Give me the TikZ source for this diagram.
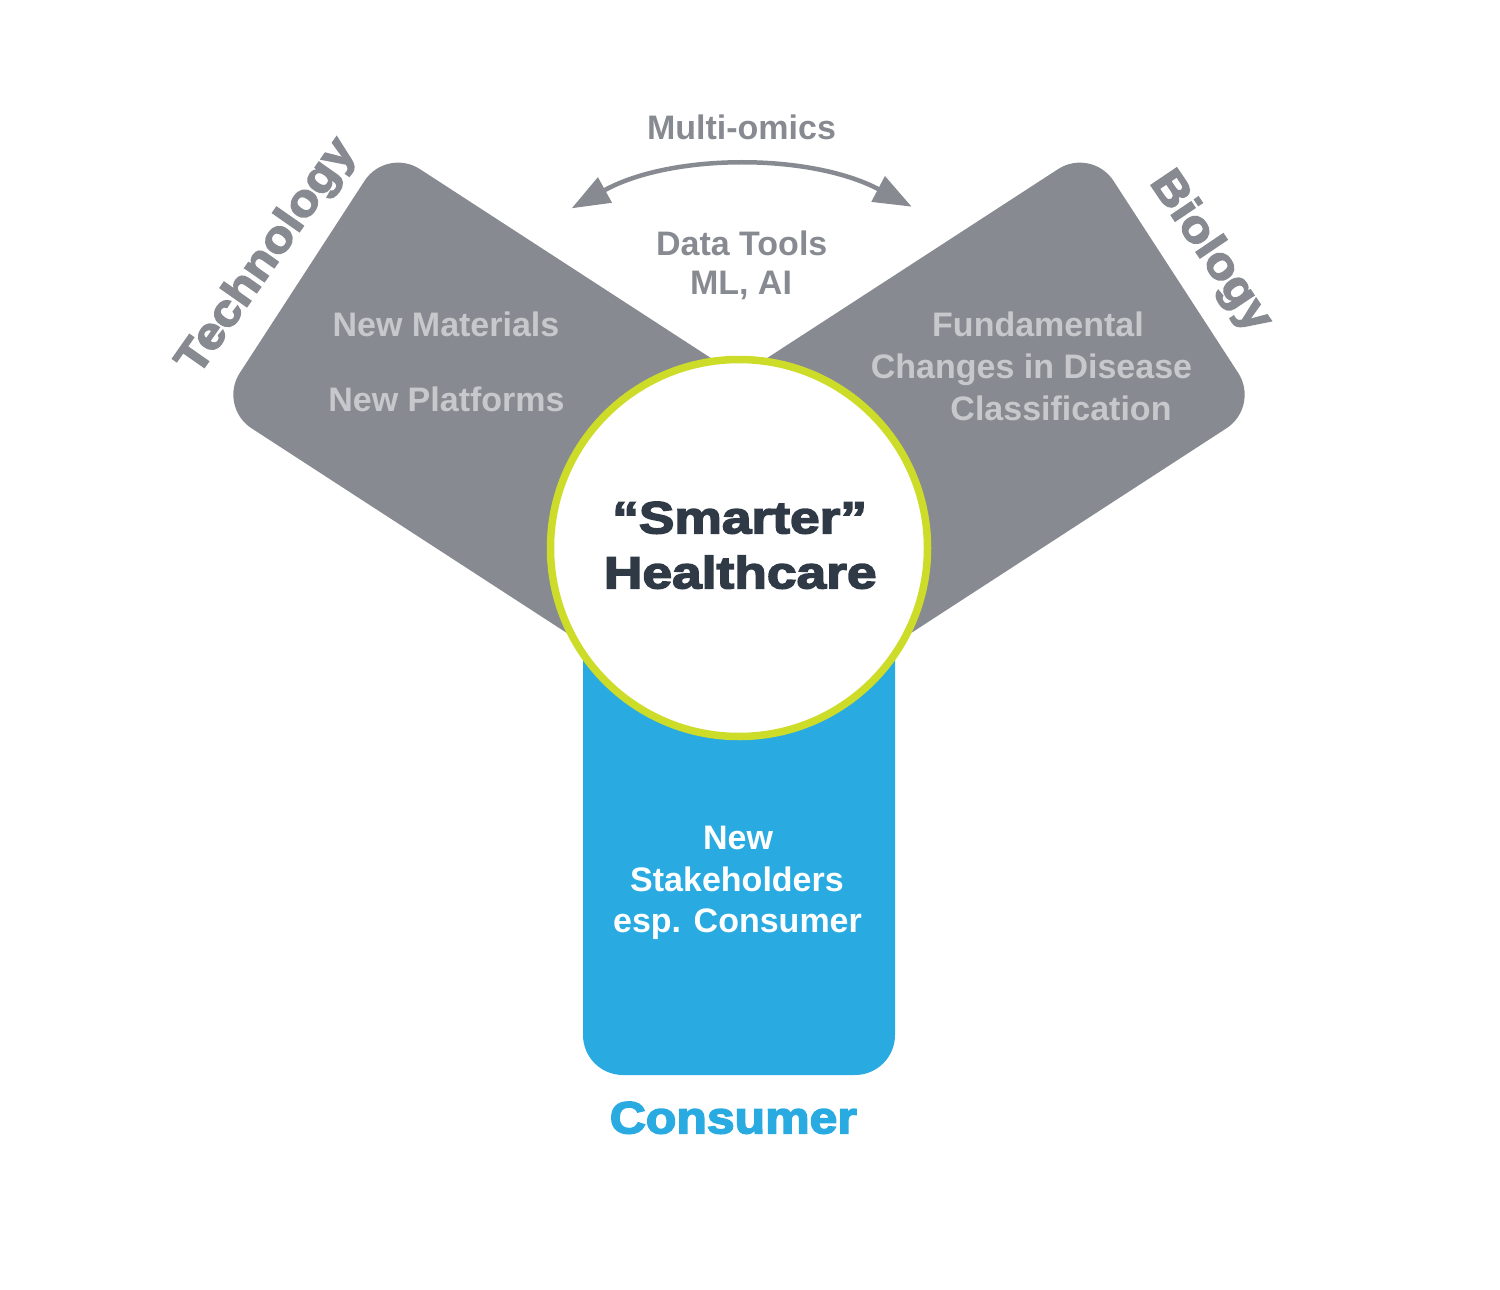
\documentclass[tikz,border=0pt]{standalone}
\usepackage{fontspec}
\setmainfont{Liberation Sans}
\newfontfamily\heavyfont[FakeBold=3.5,FakeStretch=1.11]{Liberation Sans Bold}
\newfontfamily\hubfont[FakeBold=3.5,FakeStretch=1.185]{Liberation Sans Bold}
\usetikzlibrary{arrows.meta}
\definecolor{armgray}{RGB}{135,139,145}
\definecolor{softtext}{RGB}{199,200,203}
\definecolor{skyblue}{RGB}{41,171,226}
\definecolor{limering}{RGB}{205,220,40}
\definecolor{slate}{RGB}{47,58,70}
\begin{document}
\begin{tikzpicture}[x=1pt,y=-1pt,
  arm/.style={fill=armgray, rounded corners=40pt},
  consumerarm/.style={fill=skyblue, rounded corners=40pt},
  hubcircle/.style={circle, draw=limering, line width=7.5pt, fill=white, minimum size=377pt, inner sep=0pt},
  body/.style={font=\bfseries\fontsize{34}{41}\selectfont, inner sep=0pt, anchor=base},
  heavy/.style={font=\heavyfont\fontsize{45}{54}\selectfont, inner sep=0pt},
  hubtext/.style={font=\hubfont\fontsize{45}{54}\selectfont, inner sep=0pt, anchor=base, text=slate},
  loop/.style={draw=armgray, line width=4.5pt, {Triangle[length=38pt,width=28pt]}-{Triangle[length=38pt,width=28pt]}}
]
\useasboundingbox (0,0) rectangle (1500,1290);

% arms
\fill[arm] (386.3,147.3) -- (218.0,406.5) -- (649.1,686.4) -- (817.4,427.2) -- cycle;
\fill[arm] (1091.7,147.3) -- (1260.0,406.5) -- (828.9,686.4) -- (660.6,427.2) -- cycle;
\fill[consumerarm] (583,548) rectangle (895,1075);

% hub
\node[hubcircle] (hub) at (739,548) {};
\node[hubtext] (smarter) at (739.7,533.3) {“Smarter”};
\node[hubtext] (health) at (740.3,588.3) {Healthcare};

% arm labels
\node[heavy, text=armgray, rotate=55] (tech) at (267.5,257) {Technology};
\node[heavy, text=armgray, rotate=-56] (bio) at (1210,252) {Biology};
\node[heavy, text=skyblue, anchor=base] (cons) at (733.3,1133.3) {Consumer};

% multi-omics arrow
\coordinate (omL) at (571.7,208.3);
\coordinate (omR) at (911.7,206.7);
\draw[loop] (omL) .. controls (672,153) and (810,153) .. (omR);
\node[body, text=armgray] (omics) at (741.5,139.3) {Multi-omics};
\node[body, text=armgray] (data1) at (741.7,255) {Data Tools};
\node[body, text=armgray] (data2) at (741,294) {ML, AI};

% technology arm text
\node[body, text=softtext] (mat) at (446,336.5) {New Materials};
\node[body, text=softtext] (plat) at (446.5,411.5) {New Platforms};

% biology arm text
\node[body, text=softtext] (fund) at (1038,336.7) {Fundamental};
\node[body, text=softtext] (chg) at (1031.5,378.3) {Changes in Disease};
\node[body, text=softtext] (cls) at (1061,420) {Classification};

% consumer arm text
\node[body, text=white] (new) at (738,849) {New};
\node[body, text=white] (stake) at (737,891) {Stakeholders};
\node[body, text=white] (esp) at (737.5,932) {esp. Consumer};
\end{tikzpicture}
\end{document}
